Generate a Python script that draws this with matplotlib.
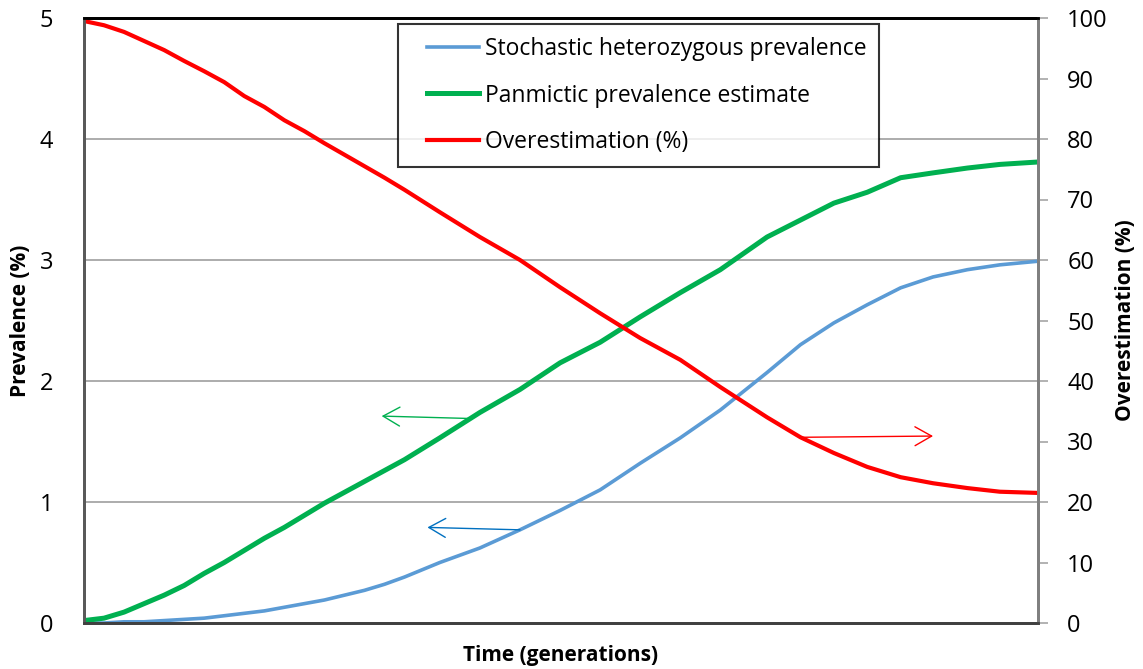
import numpy as np
import matplotlib
matplotlib.use("Agg")
from matplotlib import pyplot as plt
from matplotlib.lines import Line2D
from matplotlib.legend_handler import HandlerLine2D

# time axis (generations, no tick labels in the original)
time = [0, 21, 42, 63, 84, 105, 126, 147, 168, 189, 210, 231, 252, 273, 294,
        315, 336, 373, 415, 457, 499, 541, 583, 625, 667, 716, 751, 786,
        821, 856, 890, 926, 960, 1000]

stochastic = [0.00, 0.00, 0.01, 0.01, 0.02, 0.03, 0.04, 0.06, 0.08, 0.10,
              0.13, 0.16, 0.19, 0.23, 0.27, 0.32, 0.38, 0.50,
              0.62, 0.77, 0.93, 1.10, 1.32, 1.53, 1.76, 2.07, 2.30, 2.48,
              2.63, 2.77, 2.86, 2.92, 2.96, 2.99]

panmictic = [0.02, 0.04, 0.09, 0.16, 0.23, 0.31, 0.41, 0.50, 0.60, 0.70,
             0.79, 0.89, 0.99, 1.08, 1.17, 1.26, 1.35, 1.53,
             1.74, 1.93, 2.15, 2.32, 2.53, 2.73, 2.92, 3.19, 3.33, 3.47,
             3.56, 3.68, 3.72, 3.76, 3.79, 3.81]

overestimation = [99.5, 98.8, 97.7, 96.2, 94.7, 92.9, 91.2, 89.4, 87.1, 85.3,
                  83.1, 81.3, 79.3, 77.4, 75.5, 73.6, 71.6, 67.9,
                  63.8, 60.0, 55.5, 51.2, 47.1, 43.5, 39.0, 34.0, 30.7, 28.1,
                  25.8, 24.1, 23.1, 22.3, 21.7, 21.5]

left_ticks = [0, 1, 2, 3, 4, 5]
right_ticks = list(range(0, 101, 10))

BLUE = '#5B9BD5'
GREEN = '#00B050'
RED = '#FF0000'
GRID = '#A6A6A6'

plt.rcParams['font.family'] = ['Open Sans', 'DejaVu Sans']

fig = plt.figure(figsize=(11.43, 6.69), dpi=100)
ax = fig.add_axes([84 / 1143, 46 / 669, 954 / 1143, 605 / 669])
ax2 = ax.twinx()

ax.set_xlim(0, 1000)
ax.set_ylim(0, 5)
ax2.set_ylim(0, 100)
ax.set_xticks([])

ax.set_yticks(left_ticks)
ax.tick_params(axis='y', length=0, pad=22, labelsize=17)
ax2.set_yticks(right_ticks)
ax2.tick_params(axis='y', length=7, width=1.2, color=GRID, pad=14, labelsize=17,
                direction='out')

for y in left_ticks[1:-1]:
    ax.axhline(y, color=GRID, lw=1.3, zorder=0)

for a in (ax, ax2):
    a.spines['top'].set_color('black')
    a.spines['top'].set_linewidth(2)
    a.spines['left'].set_color('#595959')
    a.spines['left'].set_linewidth(2)
    a.spines['right'].set_color('#7F7F7F')
    a.spines['right'].set_linewidth(2)
    a.spines['bottom'].set_color('#404040')
    a.spines['bottom'].set_linewidth(2)

l1, = ax.plot(time, stochastic, color=BLUE, lw=2.6, label='Stochastic heterozygous prevalence')
l2, = ax.plot(time, panmictic, color=GREEN, lw=3.6, label='Panmictic prevalence estimate')
l3, = ax2.plot(time, overestimation, color=RED, lw=3.0, label='Overestimation (%)')

ax.set_ylabel('Prevalence (%)', fontsize=15, fontweight='bold', labelpad=6)
ax2.set_ylabel('Overestimation (%)', fontsize=15, fontweight='bold', labelpad=5)
ax.set_xlabel('Time (generations)', fontsize=15, fontweight='bold', labelpad=16)

# arrows pointing to the axis each series belongs to
arrow_style = '->,head_length=0.6,head_width=0.34'
ax.annotate('', xy=(312, 1.71), xytext=(405, 1.69),
            arrowprops=dict(arrowstyle=arrow_style, color=GREEN, lw=1.0,
                            mutation_scale=20, shrinkA=0, shrinkB=0))
ax.annotate('', xy=(360, 0.79), xytext=(457, 0.77),
            arrowprops=dict(arrowstyle=arrow_style, color='#0070C0', lw=1.0,
                            mutation_scale=20, shrinkA=0, shrinkB=0))
ax2.annotate('', xy=(890, 30.9), xytext=(754, 30.7),
             arrowprops=dict(arrowstyle=arrow_style, color=RED, lw=1.0,
                             mutation_scale=20, shrinkA=0, shrinkB=0))

leg = ax2.legend(handles=[l1, l2, l3], loc='upper left',
                 bbox_to_anchor=(398 / 1143, 1 - 24 / 669), bbox_transform=fig.transFigure,
                 borderaxespad=0, fontsize=16.5, frameon=True, fancybox=False,
                 handlelength=3.0, handletextpad=0.25, labelspacing=1.0,
                 borderpad=0.55, handler_map={Line2D: HandlerLine2D(xpad=0.7)})
leg.get_frame().set_edgecolor('black')
leg.get_frame().set_linewidth(1.5)

fig.savefig('out.png', dpi=100)
